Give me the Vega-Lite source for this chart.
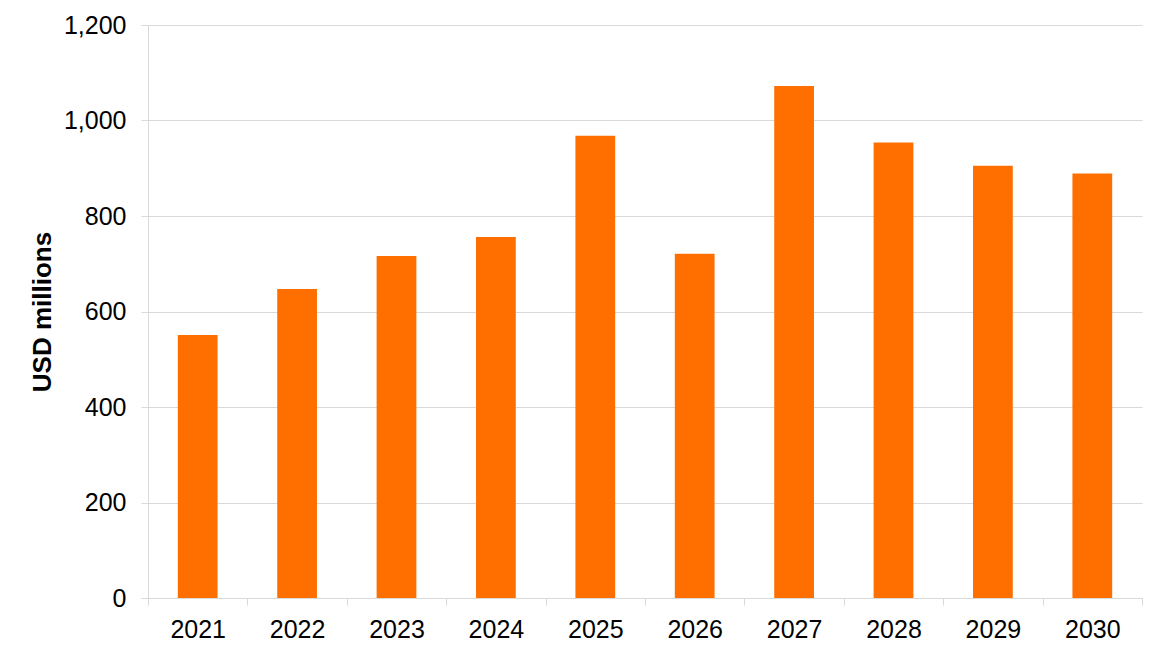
{
  "$schema": "https://vega.github.io/schema/vega-lite/v6.json",
  "width": 994,
  "height": 573,
  "autosize": {"type": "none"},
  "padding": {"left": 148, "top": 25, "right": 28, "bottom": 52},
  "background": "white",
  "data": {
    "values": [
      {"year": "2021", "value": 551},
      {"year": "2022", "value": 647},
      {"year": "2023", "value": 716},
      {"year": "2024", "value": 756},
      {"year": "2025", "value": 968},
      {"year": "2026", "value": 721},
      {"year": "2027", "value": 1072},
      {"year": "2028", "value": 954},
      {"year": "2029", "value": 905},
      {"year": "2030", "value": 889}
    ]
  },
  "mark": {"type": "bar", "color": "#ff6f00", "width": {"band": 0.4}},
  "encoding": {
    "x": {
      "field": "year",
      "type": "ordinal",
      "scale": {"paddingInner": 0, "paddingOuter": 0},
      "axis": {
        "title": null,
        "labelAngle": 0,
        "tickBand": "extent",
        "tickSize": 7,
        "tickColor": "#d9d9d9",
        "domainColor": "#d9d9d9",
        "labelFont": "Liberation Sans",
        "labelFontSize": 25,
        "labelColor": "black",
        "labelPadding": 12
      }
    },
    "y": {
      "field": "value",
      "type": "quantitative",
      "scale": {"domain": [0, 1200]},
      "axis": {
        "title": "USD millions",
        "titleFont": "Liberation Sans",
        "titleFontSize": 26,
        "titleFontWeight": "bold",
        "titleColor": "black",
        "titlePadding": 8,
        "values": [0, 200, 400, 600, 800, 1000, 1200],
        "format": ",d",
        "grid": true,
        "gridColor": "#d9d9d9",
        "tickSize": 7,
        "tickColor": "#d9d9d9",
        "domainColor": "#d9d9d9",
        "labelFont": "Liberation Sans",
        "labelFontSize": 25,
        "labelColor": "black",
        "labelPadding": 15
      }
    }
  },
  "config": {"view": {"stroke": null}}
}
